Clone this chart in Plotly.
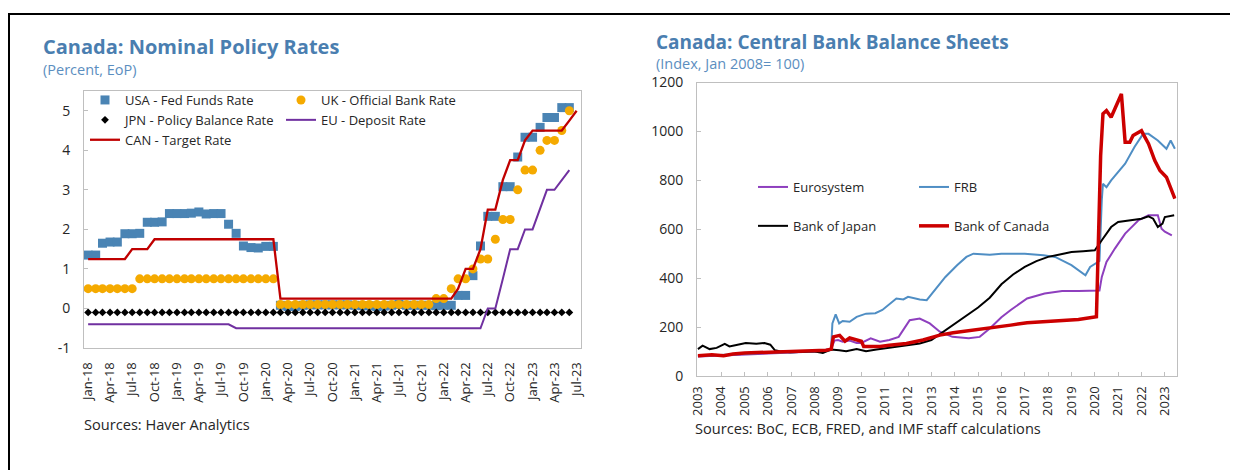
import pandas as pd
import plotly.graph_objects as go

W, H = 1238, 470
PAGE_OFFSET = 8  # default body margin of the html page
FONT = "Open Sans"
GREY = "#BFBFBF"
TITLE_BLUE = "#4A7EB0"

# ---- left panel: policy rates, monthly (EoP), Jan-18 onwards ----
months = pd.date_range("2018-01-01", "2023-07-01", freq="MS")
rate_ticks = [-1, 0, 1, 2, 3, 4, 5]
rate_labels = ["-1", "0", "1", "2", "3", "4", "5"]

usa_rate = [1.35, 1.35, 1.65, 1.68, 1.68, 1.89, 1.89, 1.90, 2.18, 2.18, 2.19, 2.40,
            2.40, 2.40, 2.41, 2.44, 2.39, 2.40, 2.40, 2.13, 1.90, 1.58, 1.54, 1.53,
            1.57, 1.57, 0.08, 0.05, 0.05, 0.08, 0.09, 0.09, 0.09, 0.09, 0.09, 0.09,
            0.08, 0.07, 0.07, 0.05, 0.06, 0.08, 0.10, 0.08, 0.08, 0.08, 0.08, 0.07,
            0.08, 0.08, 0.33, 0.33, 0.83, 1.58, 2.33, 2.33, 3.08, 3.08, 3.83, 4.33,
            4.33, 4.58, 4.83, 4.83, 5.08, 5.08]

uk_rate = [0.5, 0.5, 0.5, 0.5, 0.5, 0.5, 0.5, 0.75, 0.75, 0.75, 0.75, 0.75,
           0.75, 0.75, 0.75, 0.75, 0.75, 0.75, 0.75, 0.75, 0.75, 0.75, 0.75, 0.75,
           0.75, 0.75, 0.1, 0.1, 0.1, 0.1, 0.1, 0.1, 0.1, 0.1, 0.1, 0.1,
           0.1, 0.1, 0.1, 0.1, 0.1, 0.1, 0.1, 0.1, 0.1, 0.1, 0.1, 0.25,
           0.25, 0.5, 0.75, 0.75, 1.0, 1.25, 1.25, 1.75, 2.25, 2.25, 3.0, 3.5,
           3.5, 4.0, 4.25, 4.25, 4.5, 5.0]

jpn_rate = [-0.1, -0.1, -0.1, -0.1, -0.1, -0.1, -0.1, -0.1, -0.1, -0.1, -0.1, -0.1,
            -0.1, -0.1, -0.1, -0.1, -0.1, -0.1, -0.1, -0.1, -0.1, -0.1, -0.1, -0.1,
            -0.1, -0.1, -0.1, -0.1, -0.1, -0.1, -0.1, -0.1, -0.1, -0.1, -0.1, -0.1,
            -0.1, -0.1, -0.1, -0.1, -0.1, -0.1, -0.1, -0.1, -0.1, -0.1, -0.1, -0.1,
            -0.1, -0.1, -0.1, -0.1, -0.1, -0.1, -0.1, -0.1, -0.1, -0.1, -0.1, -0.1,
            -0.1, -0.1, -0.1, -0.1, -0.1, -0.1]

eu_rate = [-0.4, -0.4, -0.4, -0.4, -0.4, -0.4, -0.4, -0.4, -0.4, -0.4, -0.4, -0.4,
           -0.4, -0.4, -0.4, -0.4, -0.4, -0.4, -0.4, -0.4, -0.5, -0.5, -0.5, -0.5,
           -0.5, -0.5, -0.5, -0.5, -0.5, -0.5, -0.5, -0.5, -0.5, -0.5, -0.5, -0.5,
           -0.5, -0.5, -0.5, -0.5, -0.5, -0.5, -0.5, -0.5, -0.5, -0.5, -0.5, -0.5,
           -0.5, -0.5, -0.5, -0.5, -0.5, -0.5, 0.0, 0.0, 0.75, 1.5, 1.5, 2.0,
           2.0, 2.5, 3.0, 3.0, 3.25, 3.5]

can_rate = [1.25, 1.25, 1.25, 1.25, 1.25, 1.25, 1.5, 1.5, 1.5, 1.75, 1.75, 1.75,
            1.75, 1.75, 1.75, 1.75, 1.75, 1.75, 1.75, 1.75, 1.75, 1.75, 1.75, 1.75,
            1.75, 1.75, 0.25, 0.25, 0.25, 0.25, 0.25, 0.25, 0.25, 0.25, 0.25, 0.25,
            0.25, 0.25, 0.25, 0.25, 0.25, 0.25, 0.25, 0.25, 0.25, 0.25, 0.25, 0.25,
            0.25, 0.25, 0.5, 1.0, 1.0, 1.5, 2.5, 2.5, 3.25, 3.75, 3.75, 4.25,
            4.5, 4.5, 4.5, 4.5, 4.5, 4.75, 5.0]

# ---- right panel: balance sheets, index Jan 2008 = 100 (decimal years) ----
euro_t = [2003.0, 2004.0, 2005.0, 2006.0, 2007.0, 2008.0, 2008.7, 2008.85, 2009.0, 2009.2,
          2009.5, 2009.8, 2010.0, 2010.4, 2010.8, 2011.2, 2011.6, 2011.9, 2012.07, 2012.5,
          2012.93, 2013.36, 2013.9, 2014.6, 2015.07, 2015.5, 2016.0, 2016.4, 2017.1, 2017.85,
          2018.6, 2019.3, 2020.1, 2020.2, 2020.3, 2020.5, 2020.86, 2021.3, 2021.86, 2022.3,
          2022.7, 2022.86, 2023.0, 2023.3]
euro_v = [80, 85, 88, 92, 96, 100, 110, 145, 147, 140,
          145, 135, 135, 154, 140, 147, 160, 200, 228, 235,
          215, 181, 160, 154, 160, 194, 240, 270, 317, 337,
          348, 348, 348, 350, 405, 466, 521, 582, 636, 657,
          657, 602, 590, 575]

frb_t = [2003.0, 2004.0, 2005.0, 2006.0, 2007.0, 2008.0, 2008.7, 2008.76, 2008.9, 2009.05,
         2009.2, 2009.5, 2009.8, 2010.2, 2010.6, 2010.9, 2011.5, 2011.8, 2012.0, 2012.5,
         2012.8, 2013.2, 2013.6, 2014.1, 2014.5, 2014.8, 2015.5, 2016.0, 2017.0, 2017.8,
         2018.3, 2019.0, 2019.6, 2019.8, 2020.07, 2020.2, 2020.3, 2020.35, 2020.5, 2020.7,
         2021.3, 2021.7, 2022.07, 2022.3, 2022.7, 2023.07, 2023.25, 2023.43]
frb_v = [82, 87, 92, 95, 97, 100, 106, 215, 252, 215,
         225, 222, 242, 255, 257, 270, 317, 313, 324, 313,
         310, 358, 405, 453, 487, 500, 496, 500, 500, 494,
         487, 453, 412, 446, 462, 470, 720, 786, 772, 800,
         868, 936, 990, 990, 963, 929, 963, 929]

boj_t = [2003.0, 2003.2, 2003.5, 2003.8, 2004.15, 2004.35, 2004.7, 2005.05, 2005.5, 2005.85,
         2006.1, 2006.3, 2006.5, 2006.95, 2007.35, 2007.95, 2008.35, 2008.7, 2009.05, 2009.35,
         2009.8, 2010.2, 2010.65, 2011.0, 2011.5, 2012.0, 2012.5, 2013.0, 2013.5, 2014.0,
         2014.5, 2015.0, 2015.5, 2016.0, 2016.5, 2017.0, 2017.5, 2018.0, 2018.5, 2019.0,
         2019.5, 2020.0, 2020.3, 2020.7, 2021.0, 2021.5, 2022.0, 2022.3, 2022.5, 2022.7,
         2022.9, 2023.0, 2023.4]
boj_v = [110, 124, 110, 115, 131, 121, 128, 135, 132, 135,
         128, 105, 101, 97, 98, 101, 94, 108, 105, 101,
         110, 101, 108, 113, 120, 126, 133, 147, 181, 215,
         249, 280, 320, 375, 415, 446, 470, 487, 497, 507,
         510, 514, 555, 609, 630, 638, 643, 653, 643, 609,
         623, 650, 657]

boc_t = [2003.0, 2003.6, 2004.1, 2004.5, 2005.0, 2005.8, 2006.5, 2007.2, 2007.9, 2008.5,
         2008.71, 2008.8, 2009.07, 2009.3, 2009.5, 2009.8, 2010.0, 2010.1, 2010.5, 2010.8,
         2011.2, 2011.93, 2012.64, 2013.36, 2013.93, 2014.8, 2015.0, 2015.5, 2016.0, 2016.4,
         2017.1, 2017.85, 2018.6, 2019.3, 2020.07, 2020.15, 2020.25, 2020.35, 2020.5, 2020.7,
         2021.0, 2021.14, 2021.3, 2021.5, 2021.64, 2022.0, 2022.07, 2022.3, 2022.57, 2022.79,
         2023.07, 2023.3, 2023.43]
boc_v = [83, 87, 83, 90, 94, 97, 97, 101, 105, 105,
         110, 160, 166, 142, 156, 146, 142, 121, 119, 121,
         126, 133, 147, 167, 177, 188, 188, 194, 201, 208,
         218, 222, 228, 231, 242, 528, 900, 1072, 1085, 1058,
         1126, 1153, 956, 956, 983, 1003, 990, 950, 881, 840,
         813, 759, 725]

years = list(range(2003, 2024))


# page pixel -> paper fraction (page has an 8px margin around the plot div)
def px_x(p):
    return (p - PAGE_OFFSET) / W


def px_y(p):
    return 1 - (p - PAGE_OFFSET) / H


fig = go.Figure()

# left panel traces
fig.add_trace(go.Scatter(x=months[:66], y=usa_rate, mode="markers", name="USA - Fed Funds Rate",
                         marker=dict(symbol="square", size=9, color="#4A84B4"), legend="legend"))
fig.add_trace(go.Scatter(x=months[:66], y=uk_rate, mode="markers", name="UK - Official Bank Rate",
                         marker=dict(symbol="circle", size=9, color="#F5AA00"), legend="legend2"))
fig.add_trace(go.Scatter(x=months[:66], y=jpn_rate, mode="markers", name="JPN - Policy Balance Rate",
                         marker=dict(symbol="diamond", size=6, color="black"), legend="legend"))
fig.add_trace(go.Scatter(x=months[:66], y=eu_rate, mode="lines", name="EU - Deposit Rate",
                         line=dict(color="#7030A0", width=2), legend="legend2"))
fig.add_trace(go.Scatter(x=months, y=can_rate, mode="lines", name="CAN - Target Rate",
                         line=dict(color="#C00000", width=2.3), legend="legend"))

# right panel traces
fig.add_trace(go.Scatter(x=euro_t, y=euro_v, mode="lines", name="Eurosystem", xaxis="x2", yaxis="y3",
                         line=dict(color="#8E3FBE", width=2), legend="legend3", legendgroup="a"))
fig.add_trace(go.Scatter(x=frb_t, y=frb_v, mode="lines", name="FRB", xaxis="x2", yaxis="y3",
                         line=dict(color="#4F8EC4", width=2), legend="legend4", legendgroup="b"))
fig.add_trace(go.Scatter(x=boj_t, y=boj_v, mode="lines", name="Bank of Japan", xaxis="x2", yaxis="y3",
                         line=dict(color="black", width=2), legend="legend3", legendgroup="c"))
fig.add_trace(go.Scatter(x=boc_t, y=boc_v, mode="lines", name="Bank of Canada", xaxis="x2", yaxis="y3",
                         line=dict(color="#CC0000", width=3.5), legend="legend4", legendgroup="d"))

left_dom = [px_x(84), px_x(581)]
left_ydom = [px_y(348), px_y(91)]
right_dom = [px_x(697), px_x(1176.5)]
right_ydom = [px_y(376), px_y(82.5)]
y_rng = [-1, 5.5]
zero_pos = left_ydom[0] + (0 - y_rng[0]) / (y_rng[1] - y_rng[0]) * (left_ydom[1] - left_ydom[0])
x_rng = ["2017-12-15", "2023-07-19"]

tick_font = dict(family=FONT, size=13, color="#262626")
leg_font = dict(family=FONT, size=13, color="#262626")
ylab_font = dict(family=FONT, size=14, color="#262626")

fig.update_layout(
    width=W, height=H, autosize=False,
    margin=dict(l=0, r=0, t=0, b=0, pad=0, autoexpand=False),
    paper_bgcolor="white", plot_bgcolor="white",
    font=dict(family=FONT, color="#262626"),
    xaxis=dict(domain=left_dom, anchor="y", type="date", range=x_rng, tick0="2018-01-01", dtick="M3",
               tickformat="%b-%y", tickangle=-90, ticks="", showgrid=False, zeroline=False,
               showline=True, linecolor=GREY, mirror=True, tickfont=tick_font, ticklabelstandoff=8,
               automargin=False),
    xaxis3=dict(overlaying="x", anchor="free", position=zero_pos, type="date", range=x_rng,
                tick0="2018-01-01", dtick="M3", ticks="inside", ticklen=5, tickcolor=GREY,
                showticklabels=False, showline=True, linecolor=GREY, showgrid=False, zeroline=False,
                automargin=False),
    yaxis=dict(domain=left_ydom, anchor="x", range=y_rng, tickvals=rate_ticks, ticktext=rate_labels,
               showgrid=False, zeroline=False, showline=True, linecolor=GREY, mirror=True,
               ticks="inside", ticklen=4, tickcolor=GREY, tickfont=ylab_font, ticklabelstandoff=10,
               automargin=False),
    yaxis2=dict(overlaying="y", anchor="x", side="right", range=y_rng, tickvals=rate_ticks,
                ticktext=rate_labels, showgrid=False, zeroline=False, showline=False,
                tickfont=ylab_font, ticklabelstandoff=12, automargin=False),
    xaxis2=dict(domain=right_dom, anchor="y3", range=[2002.96, 2023.5], tickvals=years,
                ticktext=[str(y) for y in years], tickangle=-90, ticks="inside", ticklen=4,
                tickcolor=GREY, showgrid=False, zeroline=False, showline=True, linecolor=GREY,
                mirror=True, tickfont=tick_font, ticklabelstandoff=4, automargin=False),
    yaxis3=dict(domain=right_ydom, anchor="x2", range=[0, 1200], dtick=200, showgrid=False,
                zeroline=False, showline=True, linecolor=GREY, mirror=True, ticks="inside",
                ticklen=4, tickcolor=GREY, tickfont=ylab_font, ticklabelstandoff=10,
                automargin=False),
    yaxis4=dict(overlaying="y3", anchor="x2", side="right", range=[0, 1200], dtick=200,
                showgrid=False, zeroline=False, showline=False, tickfont=ylab_font,
                ticklabelstandoff=12, automargin=False),
    legend=dict(x=px_x(85), y=px_y(85), xanchor="left", yanchor="top", font=leg_font,
                bgcolor="rgba(0,0,0,0)", traceorder="normal"),
    legend2=dict(x=px_x(281), y=px_y(85), xanchor="left", yanchor="top", font=leg_font,
                 bgcolor="rgba(0,0,0,0)", traceorder="normal"),
    legend3=dict(x=px_x(753), y=px_y(172), xanchor="left", yanchor="top", font=leg_font,
                 bgcolor="rgba(0,0,0,0)", traceorder="grouped", tracegroupgap=19),
    legend4=dict(x=px_x(914), y=px_y(172), xanchor="left", yanchor="top", font=leg_font,
                 bgcolor="rgba(0,0,0,0)", traceorder="grouped", tracegroupgap=19),
    showlegend=True,
)

# titles, subtitles, sources
sub_font = dict(family=FONT, size=14.5, color="#5B8EC0")
src_font = dict(family=FONT, size=14.6, color="#262626")

fig.add_annotation(text="<b>Canada: Nominal Policy Rates</b>", x=px_x(41), y=px_y(46), xref="paper",
                   yref="paper", xanchor="left", yanchor="middle", showarrow=False,
                   font=dict(family=FONT, size=20, color=TITLE_BLUE))
fig.add_annotation(text="(Percent, EoP)", x=px_x(41), y=px_y(70), xref="paper", yref="paper",
                   xanchor="left", yanchor="middle", showarrow=False, font=sub_font)
fig.add_annotation(text="<b>Canada: Central Bank Balance Sheets</b>", x=px_x(654), y=px_y(42),
                   xref="paper", yref="paper", xanchor="left", yanchor="middle", showarrow=False,
                   font=dict(family=FONT, size=19, color=TITLE_BLUE))
fig.add_annotation(text="(Index, Jan 2008= 100)", x=px_x(654), y=px_y(64), xref="paper", yref="paper",
                   xanchor="left", yanchor="middle", showarrow=False, font=sub_font)
fig.add_annotation(text="Sources: Haver Analytics", x=px_x(82), y=px_y(424), xref="paper", yref="paper",
                   xanchor="left", yanchor="middle", showarrow=False, font=src_font)
fig.add_annotation(text="Sources: BoC, ECB, FRED, and IMF staff calculations", x=px_x(693), y=px_y(428),
                   xref="paper", yref="paper", xanchor="left", yanchor="middle", showarrow=False,
                   font=src_font)

# outer frame
fig.add_shape(type="rect", xref="paper", yref="paper", x0=px_x(9), x1=1.02, y0=-0.05, y1=px_y(14),
              line=dict(color="black", width=2), fillcolor="rgba(0,0,0,0)")

fig.write_html("out.html")
